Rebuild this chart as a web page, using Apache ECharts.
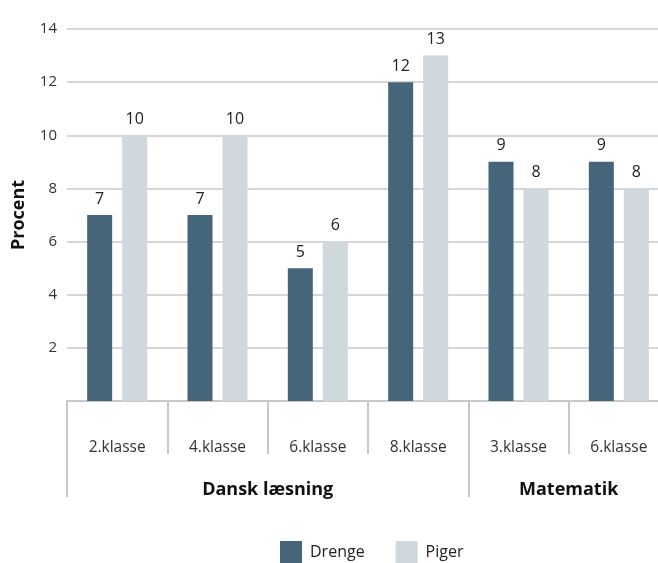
<!DOCTYPE html>
<html><head><meta charset="utf-8">
<script src="https://cdn.jsdelivr.net/npm/echarts@6/dist/echarts.min.js"></script>
<style>html,body{margin:0;padding:0;background:#fff;overflow:hidden;width:658px;height:563px}#c{width:669px;height:563px}</style>
</head><body><div id="c"></div>
<script>
const categories = ['2.klasse','4.klasse','6.klasse','8.klasse','3.klasse','6.klasse'];
const groups = ['Dansk læsning','Matematik'];
const groupSizes = [4, 2];
const drenge = [7, 7, 5, 12, 9, 9];
const piger = [10, 10, 6, 13, 8, 8];
const yTicks = [2, 4, 6, 8, 10, 12, 14];

const FONT = '"Open Sans", "Noto Sans", sans-serif';
const bounds = [0]; groupSizes.forEach(s => bounds.push(bounds[bounds.length-1] + s));
const centers = groupSizes.map((s, i) => bounds[i] + s / 2);

const chart = echarts.init(document.getElementById('c'), null, {renderer: 'canvas'});
chart.setOption({
  animation: false,
  backgroundColor: '#fff',
  textStyle: {fontFamily: FONT},
  grid: {left: 67, top: 29, bottom: 162, right: 0, containLabel: false},
  legend: {
    data: ['Drenge', 'Piger'], left: 280, top: 541, padding: 0, itemWidth: 22, itemHeight: 22, itemGap: 31,
    icon: 'rect',
    textStyle: {fontFamily: FONT, fontSize: 16, color: '#222', padding: [0, 0, 0, 3]}
  },
  xAxis: [{
    type: 'category', data: categories,
    axisLine: {show: true, lineStyle: {color: '#c8c8c8', width: 2}},
    axisTick: {show: true, length: 53, lineStyle: {color: '#c8c8c8', width: 2}},
    axisLabel: {margin: 39, fontSize: 15.5, color: '#333', fontFamily: FONT},
    splitLine: {show: false}
  }, {
    type: 'value', min: 0, max: bounds[bounds.length-1], position: 'bottom',
    axisLine: {show: false},
    axisTick: {show: true, customValues: bounds, length: 96, lineStyle: {color: '#c8c8c8', width: 2}},
    axisLabel: {customValues: centers, margin: 80, fontSize: 18, fontWeight: 'bold', color: '#111', fontFamily: FONT,
      formatter: v => { const i = centers.indexOf(v); return i >= 0 ? groups[i] : ''; }},
    splitLine: {show: false}
  }],
  yAxis: {
    type: 'value', min: 0, max: 14, interval: 2,
    name: 'Procent', nameLocation: 'middle', nameGap: 39, nameRotate: 90,
    nameTextStyle: {fontSize: 18, fontWeight: 'bold', color: '#111', fontFamily: FONT},
    axisLine: {show: false}, axisTick: {show: false},
    axisLabel: {margin: 10, fontSize: 15, color: '#333', fontFamily: FONT,
      formatter: v => yTicks.includes(v) ? String(v) : ''},
    splitLine: {show: true, lineStyle: {color: '#d6d6d6', width: 2}}
  },
  series: [{
    name: 'Drenge', type: 'bar', data: drenge, barWidth: 25, barGap: '40%',
    itemStyle: {color: '#45657a'},
    label: {show: true, position: 'top', distance: 8, fontSize: 16, color: '#222', fontFamily: FONT}
  }, {
    name: 'Piger', type: 'bar', data: piger, barWidth: 25,
    itemStyle: {color: '#cfd8dc'},
    label: {show: true, position: 'top', distance: 8, fontSize: 16, color: '#222', fontFamily: FONT}
  }]
});
</script></body></html>
